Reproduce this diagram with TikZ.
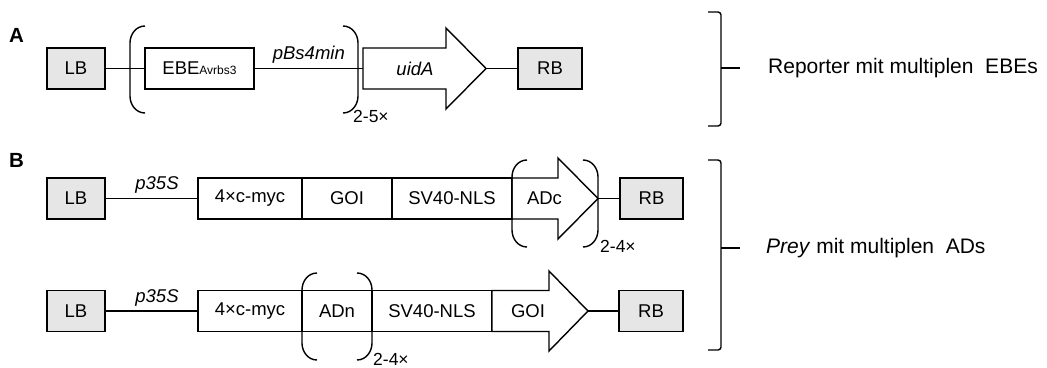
\documentclass[tikz,border=0pt]{standalone}
\usepackage{fontspec}
\setmainfont{Liberation Sans}
\usepackage{xcolor}
\usepackage{tikz}
\usetikzlibrary{positioning,calc}
\definecolor{grenz}{RGB}{230,230,230}

% runde Klammern um die Wiederholungseinheit
\newcommand{\klammerauf}[3]{%
  \draw[linie] ($(#1,#2)+(15,0)$) to[out=180,in=90] ($(#1,#2)+(0,17)$)
    -- ($(#1,#3)+(0,-17)$) to[out=-90,in=180] ($(#1,#3)+(15,0)$);}
\newcommand{\klammerzu}[3]{%
  \draw[linie] ($(#1,#2)+(-15,0)$) to[out=0,in=90] ($(#1,#2)+(0,17)$)
    -- ($(#1,#3)+(0,-17)$) to[out=-90,in=0] ($(#1,#3)+(-15,0)$);}

\begin{document}
\begin{tikzpicture}[x=1pt,y=-1pt,
    linie/.style={line width=1.4pt},
    gross/.style={font=\fontsize{18.5}{20}\selectfont},
    kursiv/.style={font=\fontsize{18.5}{20}\selectfont\itshape},
    rand/.style={draw,linie,gross,fill=grenz,minimum width=58,minimum height=41,inner sep=0pt},
    elem/.style={draw,linie,gross,fill=white,minimum height=41,inner sep=0pt},
    anz/.style={font=\fontsize{17.5}{18}\selectfont,anchor=base west,inner sep=0pt},
    teil/.style={font=\fontsize{20.5}{22}\selectfont\bfseries,anchor=base west,inner sep=0pt},
    titel/.style={font=\fontsize{21}{24}\selectfont,anchor=west,inner sep=0pt}]
  \useasboundingbox (0,0) rectangle (1047,367);

  % --- A: Reporter
  \node[teil] (labA) at (9,42) {A};
  \node[rand] (lbA) at (76,68.5) {LB};
  \node[elem,minimum width=109] (ebe) at (199.5,68.5) {EBE{\fontsize{12}{12}\selectfont Avrbs3}};
  \coordinate (uidAend) at (363,68.5);
  \coordinate (uidAspitze) at (486,68.5);
  \draw[linie,fill=white] (363,48) -- (446,48) -- (446,28) -- (uidAspitze) -- (446,109) -- (446,89) -- (363,89) -- cycle;
  \node[kursiv] (uidA) at (415,68.5) {uidA};
  \node[rand,minimum width=64] (rbA) at (550,68.5) {RB};
  \draw[linie] (lbA) -- (ebe);
  \draw[linie] (ebe) -- (uidAend) node[midway,above=1pt,kursiv] {pBs4min};
  \draw[linie] (uidAspitze) -- (rbA);
  \klammerauf{130}{26}{113}
  \klammerzu{358}{26}{113}
  \node[anz] (wdhA) at (353,122) {2-5×};

  % --- B: Prey, ADc am C-Terminus
  \node[teil] (labB) at (9,167) {B};
  \node[rand] (lbB) at (76,198.5) {LB};
  \node[elem,minimum width=104] (mycB) at (250,198.5) {4×c-myc};
  \node[elem,minimum width=90] (goiB) at (347,198.5) {GOI};
  \node[elem,minimum width=120] (nlsB) at (452,198.5) {SV40-NLS};
  \coordinate (adcspitze) at (598,198.5);
  \draw[linie,fill=white] (512,178) -- (558,178) -- (558,158) -- (adcspitze) -- (558,239) -- (558,219) -- (512,219) -- cycle;
  \node[gross] (adc) at (544.5,198.5) {ADc};
  \node[rand,minimum width=63] (rbB) at (651.5,198.5) {RB};
  \draw[linie] (lbB) -- (mycB) node[pos=0.56,above=1pt,kursiv] {p35S};
  \draw[linie] (adcspitze) -- (rbB);
  \klammerauf{512}{160}{247}
  \klammerzu{598}{160}{247}
  \node[anz] (wdhB) at (600,252) {2-4×};

  % --- B: Prey, ADn am N-Terminus
  \node[rand] (lbC) at (76,311) {LB};
  \node[elem,minimum width=104] (mycC) at (250,311) {4×c-myc};
  \node[elem,minimum width=70] (adn) at (337,311) {ADn};
  \node[elem,minimum width=120] (nlsC) at (432,311) {SV40-NLS};
  \coordinate (goispitze) at (588,311);
  \draw[linie,fill=white] (492,290.5) -- (549,290.5) -- (549,271) -- (goispitze) -- (549,351) -- (549,331.5) -- (492,331.5) -- cycle;
  \node[gross] (goiC) at (528,311) {GOI};
  \node[rand,minimum width=64] (rbC) at (651,311) {RB};
  \draw[linie] (lbC) -- (mycC) node[pos=0.56,above=1pt,kursiv] {p35S};
  \draw[linie] (goispitze) -- (rbC);
  \klammerauf{302}{273}{360}
  \klammerzu{372}{273}{360}
  \node[anz] (wdhC) at (373,365) {2-4×};

  % --- eckige Klammern rechts
  \draw[linie,rounded corners=3] (708,12) -- (721,12) -- (721,126) -- (708,126);
  \draw[linie] (721,68) -- (740,68);
  \node[titel] (repA) at (768,68) {Reporter mit multiplen~ EBEs};
  \draw[linie,rounded corners=3] (708,160) -- (721,160) -- (721,350) -- (708,350);
  \draw[linie] (721,248) -- (740,248);
  \node[titel] (preyB) at (766,248) {\textit{Prey} mit multiplen~ ADs};
\end{tikzpicture}
\end{document}
